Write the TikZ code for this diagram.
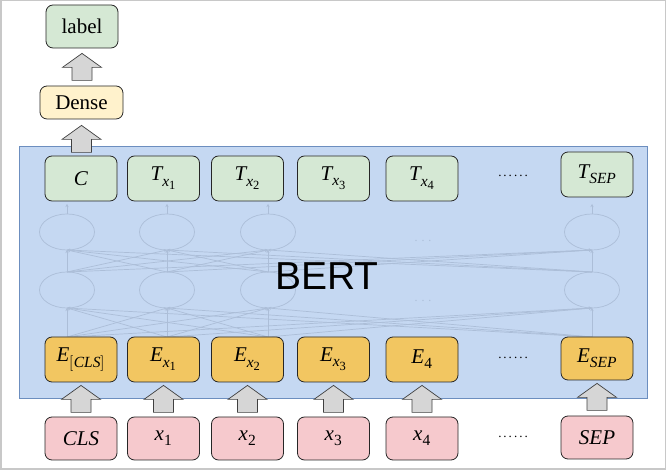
\documentclass[tikz,border=0pt]{standalone}
\usepackage{fontspec}
\usepackage{unicode-math}
\setmainfont{Liberation Serif}
\setmathfont{Latin Modern Math}
\setmathfontface\mathlib{Liberation Serif Italic}
\setmathfontface\mathlibup{Liberation Serif}
\DeclareMathSizes{21}{21}{15.5}{12.5}
\newfontfamily\bertfont{Liberation Sans}
\newcommand\mvar[1]{\mathlib{#1}}
\newcommand\mnum[1]{\mathlibup{#1}}
\newcommand\sixdots{.\kern2pt.\kern2pt.\kern2pt.\kern2pt.\kern2pt.}
\usetikzlibrary{calc,arrows.meta}
\definecolor{cgreen}{HTML}{D5E8D4}
\definecolor{cyellow}{HTML}{FFF2CC}
\definecolor{corange}{HTML}{F2C661}
\definecolor{cpink}{HTML}{F6C9CD}
\definecolor{cblue}{HTML}{C5D8F2}
\definecolor{cblueline}{HTML}{6C8EBF}
\definecolor{cfade}{RGB}{172,190,216}
\definecolor{carrow}{HTML}{D6D6D6}
\definecolor{cframe}{HTML}{C8C8C8}
\begin{document}
\begin{tikzpicture}[x=1pt,y=1pt,
  box/.style={draw=black!85, line width=0.8pt, rounded corners=7pt, inner sep=0pt,
    minimum width=72pt, minimum height=45pt, font=\fontsize{21}{25}\selectfont},
  greenbox/.style={box, fill=cgreen},
  embbox/.style={box, fill=corange},
  inbox/.style={box, fill=cpink, minimum height=43pt},
  dots/.style={font=\fontsize{13}{16}\selectfont, inner sep=0pt},
  fade/.style={draw=cfade, line width=0.7pt},
  fadearr/.style={fade, -{Stealth[length=3pt,width=3pt]}},
  blockup/.pic={\draw[fill=carrow, draw=black!75, line width=0.7pt]
    (0,0) -- (19.5,-14) -- (10,-14) -- (10,-27) -- (-10,-27) -- (-10,-14) -- (-19.5,-14) -- cycle;}
]
\useasboundingbox (0,0) rectangle (666,470);
\draw[cframe, line width=1.5pt] (0.75,0.75) rectangle (665.25,469.25);

% BERT block
\draw[fill=cblue, draw=cblueline, line width=0.8pt] (19,72) rectangle (647,324);

% faded network
\foreach \cx in {67,167,268,592} {
  \draw[fade] (\cx,238) ellipse (27.5pt and 18pt);
  \draw[fade] (\cx,180) ellipse (27.5pt and 18pt);
  \draw[fadearr] (\cx,256) -- (\cx,266);
  \foreach \dx in {67,167,268,592} {
    \draw[fadearr] (\cx,198) -- (\dx,220);
    \draw[fadearr] (\cx,133) -- (\dx,162);
  }
}
\node[text=cfade, font=\fontsize{12}{12}\selectfont] (d1) at (423,229) {. . .};
\node[text=cfade, font=\fontsize{12}{12}\selectfont] (d2) at (423,169) {. . .};
\node[font=\bertfont\fontsize{39}{44}\selectfont, inner sep=0pt] (bert) at (327,194) {BERT};

% output rows
\node[greenbox] (C) at (81,291.5) {$\mvar{C}$};
\node[greenbox] (T1) at (163.5,291.5) {$\mvar{T}_{\mvar{x}_{\mnum{1}}}$};
\node[greenbox] (T2) at (247.5,291.5) {$\mvar{T}_{\mvar{x}_{\mnum{2}}}$};
\node[greenbox] (T3) at (333.5,291.5) {$\mvar{T}_{\mvar{x}_{\mnum{3}}}$};
\node[greenbox] (T4) at (422,291.5) {$\mvar{T}_{\mvar{x}_{\mnum{4}}}$};
\node[dots] (td) at (513,294) {\sixdots};
\node[greenbox] (TS) at (597,295.5) {$\mvar{T}_{\mvar{SEP}}$};

% embeddings
\node[embbox] (E0) at (81,110.5) {$\mvar{E}_{\mnum{[}\mvar{CLS}\mnum{]}}$};
\node[embbox] (E1) at (163.5,110.5) {$\mvar{E}_{\mvar{x}_{\mnum{1}}}$};
\node[embbox] (E2) at (247.5,110.5) {$\mvar{E}_{\mvar{x}_{\mnum{2}}}$};
\node[embbox] (E3) at (333.5,110.5) {$\mvar{E}_{\mvar{x}_{\mnum{3}}}$};
\node[embbox] (E4) at (422,110.5) {$\mvar{E}_{\mnum{4}}$};
\node[dots] (ed) at (513,112) {\sixdots};
\node[embbox, minimum height=43pt] (ES) at (597,111.5) {$\mvar{E}_{\mvar{SEP}}$};

% inputs
\node[inbox] (X0) at (81,31.5) {$\mvar{CLS}$};
\node[inbox] (X1) at (163.5,31.5) {$\mvar{x}_{\mnum{1}}$};
\node[inbox] (X2) at (247.5,31.5) {$\mvar{x}_{\mnum{2}}$};
\node[inbox] (X3) at (333.5,31.5) {$\mvar{x}_{\mnum{3}}$};
\node[inbox] (X4) at (422,31.5) {$\mvar{x}_{\mnum{4}}$};
\node[dots] (xd) at (513,33) {\sixdots};
\node[inbox] (XS) at (597,32.5) {$\mvar{SEP}$};

% head
\node[box, fill=cyellow, minimum width=83pt, minimum height=33pt] (dense) at (81.5,367.5) {Dense};
\node[greenbox, minimum height=43pt] (label) at (82,443.5) {label};

% block arrows
\pic at ($(label.south)+(0,-5)$) {blockup};
\pic at ($(dense.south)+(0,-6)$) {blockup};
\foreach \n in {0,1,2,3,4,S} {
  \pic at ($(E\n.south)+(0,-3)$) {blockup};
}
\end{tikzpicture}
\end{document}
